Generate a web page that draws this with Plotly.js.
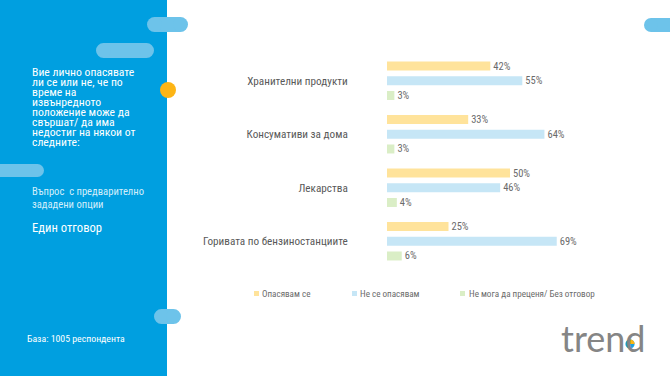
<!DOCTYPE html>
<html><head><meta charset="utf-8">
<script src="https://cdn.plot.ly/plotly-3.0.1.min.js"></script>
<style>html,body{margin:0;padding:0;background:#fff;} #chart{width:670px;height:376px;}</style>
</head><body><div id="chart"></div>
<script>
const categories = ["Хранителни продукти","Консумативи за дома","Лекарства","Горивата по бензиностанциите"];
const seriesNames = ["Опасявам се","Не се опасявам","Не мога да преценя/ Без отговор"];
const worried = [42,33,50,25];
const notWorried = [55,64,46,69];
const noAnswer = [3,3,4,6];
const seriesValues = [worried, notWorried, noAnswer];
const colors = ["#FFE39B","#C6E6F6","#DAEEC6"];
const questionLines = ["Вие лично опасявате","ли се или не, че по","време на","извънредното","положение може да","свършат/ да има","недостиг на някои от","следните:"];
const noteLines = ["Въпрос  с предварително","зададени опции"];
const answerType = "Един отговор";
const baseText = "База: 1005 респондента";

const L = 387, PW = 246, T = 54, PH = 214, W = 670, H = 376;
const X = px => (px - L) / PW;
const Y = py => (T + PH - py) / PH;
const FONT = "'Roboto Condensed', 'Liberation Sans Narrow', 'DejaVu Sans Condensed', Roboto, sans-serif";

const traces = seriesValues.map((vals, i) => ({
  type: 'bar', orientation: 'h', name: seriesNames[i],
  y: categories, x: vals,
  marker: {color: colors[i]},
  text: vals.map(v => v + '%'), textposition: 'outside',
  textfont: {family: FONT, size: 10.5, color: '#6b6b6b'},
  constraintext: 'none', cliponaxis: false,
  hoverinfo: 'x+y', showlegend: false
}));

const shapes = [];
shapes.push({type:'rect', xref:'paper', yref:'paper', x0:X(0), x1:X(167), y0:Y(H), y1:Y(0), fillcolor:'#009FE0', line:{width:0}, layer:'below'});
function pill(x0,y0,x1,y1,c){
  const r=(y1-y0)/2;
  shapes.push({type:'rect', xref:'paper', yref:'paper', x0:X(x0+r), x1:X(x1-r), y0:Y(y1), y1:Y(y0), fillcolor:c, line:{width:0}, layer:'below'});
  shapes.push({type:'circle', xref:'paper', yref:'paper', x0:X(x0), x1:X(x0+2*r), y0:Y(y1), y1:Y(y0), fillcolor:c, line:{width:0}, layer:'below'});
  shapes.push({type:'circle', xref:'paper', yref:'paper', x0:X(x1-2*r), x1:X(x1), y0:Y(y1), y1:Y(y0), fillcolor:c, line:{width:0}, layer:'below'});
}
const pc = '#6DC3EA';
pill(147,17,188,32,pc);
pill(96,43,154,58,pc);
pill(-20,164,44,177,pc);
pill(154,309,181,324,pc);
pill(644,18,700,32,pc);
shapes.push({type:'circle', xref:'paper', yref:'paper', x0:X(160), x1:X(176), y0:Y(98), y1:Y(82), fillcolor:'#FDB515', line:{width:0}});

// legend squares
const legX = [254, 352, 460];
legX.forEach((x,i)=>{
  shapes.push({type:'rect', xref:'paper', yref:'paper', x0:X(x), x1:X(x+5), y0:Y(296), y1:Y(291), fillcolor:colors[i], line:{width:0}});
});

// logo dot inside the "d"
const dcx = 630, dcy = 344, dr = 4.6;
shapes.push({type:'circle', xref:'paper', yref:'paper', x0:X(dcx-dr), x1:X(dcx+dr), y0:Y(dcy+dr), y1:Y(dcy-dr), fillcolor:'#1FA0DC', line:{width:0}});
let wedge = `M${X(dcx)},${Y(dcy)}`;
for (let k=0;k<=8;k++){ const a = -Math.PI/2 + k*(Math.PI/2)/8; wedge += ` L${X(dcx+dr*Math.cos(a))},${Y(dcy+dr*Math.sin(a))}`; }
wedge += ' Z';
shapes.push({type:'path', xref:'paper', yref:'paper', path:wedge, fillcolor:'#FDB515', line:{width:0}});

const annotations = [];
questionLines.forEach((t,i)=>{
  annotations.push({text:t, xref:'paper', yref:'paper', x:X(30), y:Y(72+i*10), xanchor:'left', yanchor:'middle', showarrow:false,
    font:{family:FONT, size:11.7, color:'#ffffff'}});
});
noteLines.forEach((t,i)=>{
  annotations.push({text:t, xref:'paper', yref:'paper', x:X(30), y:Y(191+i*13), xanchor:'left', yanchor:'middle', showarrow:false,
    font:{family:FONT, size:10.6, color:'#D3EEFB'}});
});
annotations.push({text:answerType, xref:'paper', yref:'paper', x:X(30), y:Y(227), xanchor:'left', yanchor:'middle', showarrow:false,
  font:{family:FONT, size:12.6, color:'#ffffff'}});
annotations.push({text:baseText, xref:'paper', yref:'paper', x:X(25), y:Y(338), xanchor:'left', yanchor:'middle', showarrow:false,
  font:{family:FONT, size:9.8, color:'#ffffff'}});
const legTextX = [260, 358, 467];
seriesNames.forEach((n,i)=>{
  annotations.push({text:n, xref:'paper', yref:'paper', x:X(legTextX[i]), y:Y(293.5), xanchor:'left', yanchor:'middle', showarrow:false,
    font:{family:FONT, size:9.1, color:'#6b6b6b'}});
});
annotations.push({text:'trend', xref:'paper', yref:'paper', x:X(603), y:Y(338), xanchor:'center', yanchor:'middle', showarrow:false,
  font:{family:'Lato, sans-serif', size:36, color:'#858585'}});

const layout = {
  width: W, height: H,
  margin: {l:L, r:W-L-PW, t:T, b:H-T-PH, pad:0},
  paper_bgcolor:'#ffffff', plot_bgcolor:'rgba(0,0,0,0)',
  barmode:'group', bargap:0.174, bargroupgap:0.39,
  showlegend:false,
  xaxis:{range:[0,100], visible:false, fixedrange:true},
  yaxis:{type:'category', autorange:'reversed', ticks:'outside', ticklen:36, tickcolor:'rgba(0,0,0,0)',
    showgrid:false, zeroline:false, showline:false, fixedrange:true,
    tickfont:{family:FONT, size:11.2, color:'#595959'}},
  shapes, annotations,
  font:{family:FONT}
};
Plotly.newPlot('chart', traces, layout, {displayModeBar:false, staticPlot:true});
</script></body></html>
